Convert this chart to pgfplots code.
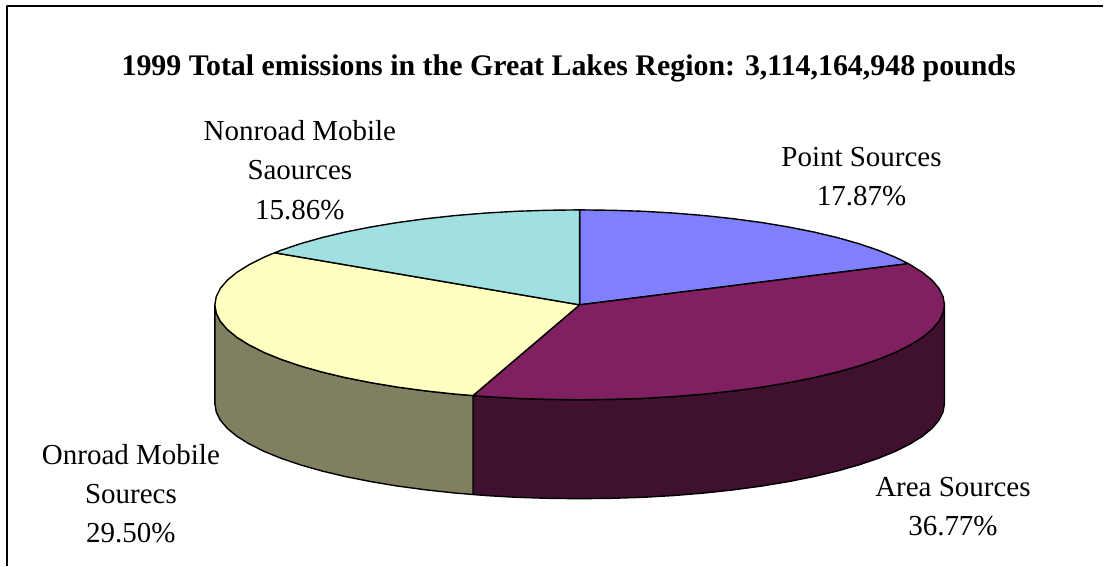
\documentclass[border=0pt]{standalone}
\usepackage{pgfplots}
\usepackage{fontspec}
\setmainfont{Liberation Serif}
\pgfplotsset{compat=1.18}
\definecolor{pointc}{HTML}{8080FF}
\definecolor{areac}{HTML}{802060}
\definecolor{areaside}{HTML}{40102F}
\definecolor{onroadc}{HTML}{FFFFC0}
\definecolor{onroadside}{HTML}{808060}
\definecolor{nonroadc}{HTML}{A0E0E0}
\tikzset{lab/.style={font=\fontsize{29}{39.3}\selectfont, align=center, text=black, inner sep=0pt}}
\begin{document}
\begin{tikzpicture}
\begin{axis}[
  scale only axis,
  width=1104pt, height=566pt,
  xmin=0, xmax=1104, ymin=0, ymax=566,
  y dir=reverse,
  hide axis,
  clip=false,
  every axis plot/.append style={line join=round},
]
% hide axis drops the box from the bounding box, so keep the page size
\addplot[draw=none] coordinates {(0,0) (1104,566)};
% frame, only top and left are visible
\addplot[black, line width=1.3pt] coordinates {(7,566) (7,6) (1104,6)};

% side walls
\addplot[draw=black, line width=1.4pt, fill=areaside] coordinates {
 (945,305) (943.6,313.3) (939.5,321.5) (932.6,329.6) (923,337.5) (910.8,345.1) (896.1,352.5) (879,359.5)
 (859.6,366.1) (838.1,372.2) (814.6,377.8) (789.4,382.8) (762.5,387.3) (734.3,391.1) (704.8,394.3) (674.5,396.8)
 (643.4,398.6) (611.8,399.6) (580,400) (548.2,399.6) (516.6,398.6) (485.5,396.8) (473.3,395.8)
 (473.3,494.8) (485.5,495.8) (516.6,497.6) (548.2,498.6) (580,499) (611.8,498.6) (643.4,497.6) (674.5,495.8)
 (704.8,493.3) (734.3,490.1) (762.5,486.3) (789.4,481.8) (814.6,476.8) (838.1,471.2) (859.6,465.1) (879,458.5)
 (896.1,451.5) (910.8,444.1) (923,436.5) (932.6,428.6) (939.5,420.5) (943.6,412.3) (945,404)
} -- cycle;
\addplot[draw=black, line width=1.4pt, fill=onroadside] coordinates {
 (473.3,395.8) (455.2,394.3) (425.7,391.1) (397.5,387.3) (370.6,382.8) (345.4,377.8) (321.9,372.2) (300.4,366.1)
 (281,359.5) (263.9,352.5) (249.2,345.1) (237,337.5) (227.4,329.6) (220.5,321.5) (216.4,313.3) (215,305)
 (215,404) (216.4,412.3) (220.5,420.5) (227.4,428.6) (237,436.5) (249.2,444.1) (263.9,451.5) (281,458.5)
 (300.4,465.1) (321.9,471.2) (345.4,476.8) (370.6,481.8) (397.5,486.3) (425.7,490.1) (455.2,493.3) (473.3,494.8)
} -- cycle;

% top slices
\addplot[draw=black, line width=1.4pt, fill=pointc] coordinates {
 (580,305) (580,210) (611.8,210.4) (643.4,211.4) (674.5,213.2) (704.8,215.7) (734.3,218.9) (762.5,222.7)
 (789.4,227.2) (814.6,232.2) (838.1,237.8) (859.6,243.9) (879,250.5) (896.1,257.5) (908.9,263.8)
} -- cycle;
\addplot[draw=black, line width=1.4pt, fill=areac] coordinates {
 (580,305) (908.9,263.8) (923,272.5) (932.6,280.4) (939.5,288.5) (943.6,296.7) (945,305) (943.6,313.3) (939.5,321.5)
 (932.6,329.6) (923,337.5) (910.8,345.1) (896.1,352.5) (879,359.5) (859.6,366.1) (838.1,372.2) (814.6,377.8)
 (789.4,382.8) (762.5,387.3) (734.3,391.1) (704.8,394.3) (674.5,396.8) (643.4,398.6) (611.8,399.6) (580,400)
 (548.2,399.6) (516.6,398.6) (485.5,396.8) (473.3,395.8)
} -- cycle;
\addplot[draw=black, line width=1.4pt, fill=onroadc] coordinates {
 (580,305) (473.3,395.8) (455.2,394.3) (425.7,391.1) (397.5,387.3) (370.6,382.8) (345.4,377.8) (321.9,372.2)
 (300.4,366.1) (281,359.5) (263.9,352.5) (249.2,345.1) (237,337.5) (227.4,329.6) (220.5,321.5) (216.4,313.3)
 (215,305) (216.4,296.7) (220.5,288.5) (227.4,280.4) (237,272.5) (249.2,264.9) (263.9,257.5) (274.8,252.9)
} -- cycle;
\addplot[draw=black, line width=1.4pt, fill=nonroadc] coordinates {
 (580,305) (274.8,252.9) (281,250.5) (300.4,243.9) (321.9,237.8) (345.4,232.2) (370.6,227.2) (397.5,222.7)
 (425.7,218.9) (455.2,215.7) (485.5,213.2) (516.6,211.4) (548.2,210.4) (580,210)
} -- cycle;

% title and labels
\node[anchor=center, font=\fontsize{29.9}{33}\selectfont\bfseries, inner sep=0pt] at (axis cs:569,68)
  {1999 Total emissions in the Great Lakes Region: 3,114,164,948 pounds};
\node[lab] at (axis cs:862,177) {Point Sources\\17.87\%};
\node[lab] at (axis cs:953.5,507) {Area Sources\\36.77\%};
\node[lab] at (axis cs:131,494) {Onroad Mobile\\Sourecs\\29.50\%};
\node[lab] at (axis cs:300,170) {Nonroad Mobile\\Saources\\15.86\%};
\end{axis}
\end{tikzpicture}
\end{document}
